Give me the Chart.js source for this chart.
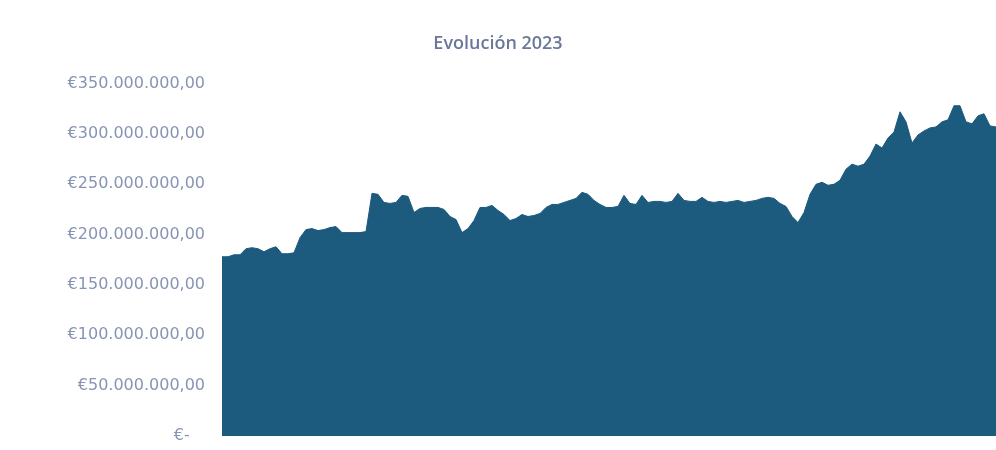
<!DOCTYPE html>
<html>
<head>
<meta charset="utf-8">
<script src="https://cdn.jsdelivr.net/npm/chart.js@4"></script>
<style>
  body { margin: 0; background: #ffffff; }
  #wrap { width: 996px; height: 450px; }
</style>
</head>
<body>
<div id="wrap"><canvas id="chart1"></canvas></div>
<script>
// valores, en millones de euros
var values = [178, 178, 180, 180, 186, 187, 186, 183, 186, 188,
              181, 181, 182, 197, 205, 206, 204, 205, 207, 208,
              202, 202, 202, 202, 203, 241, 240, 232, 231, 232,
              239, 238, 222, 226, 227, 227, 227, 225, 218, 215,
              202, 206, 214, 227, 227, 229, 224, 220, 214, 216,
              220, 218, 219, 221, 227, 230, 230, 232, 234, 236,
              242, 240, 234, 230, 227, 227, 228, 239, 231, 230,
              239, 232, 233, 233, 232, 233, 241, 234, 233, 233,
              237, 233, 232, 233, 232, 233, 234, 232, 233, 234,
              236, 237, 236, 231, 228, 218, 212, 222, 240, 250,
              252, 249, 250, 254, 265, 270, 268, 270, 278, 290,
              286, 296, 302, 322, 312, 291, 299, 303, 306, 307,
              312, 314, 328, 328, 312, 310, 318, 320, 308, 307];
var days = values.map(function(v, i) { return 'D' + (i + 1); });
var yTicks = [0, 50, 100, 150, 200, 250, 300, 350];

function euro(m) {
    if (m === 0) return '€-   ';
    return '€' + m + '.000.000,00';
}

document.addEventListener("DOMContentLoaded", function() {
    var ctx1 = document.getElementById('chart1').getContext('2d');
    var chart1 = new Chart(ctx1, {
        type: 'line',
        data: {
            labels: days,
            datasets: [{
                label: 'Evolución 2023',
                data: values,
                backgroundColor: '#1c5a7e',
                borderColor: '#1c5a7e',
                borderWidth: 1,
                fill: 'origin',
                pointRadius: 0,
                tension: 0
            }]
        },
        options: {
            responsive: true,
            maintainAspectRatio: false,
            animation: false,
            layout: { padding: { top: 0, right: 0, bottom: 14, left: 0 } },
            plugins: {
                legend: { display: false },
                tooltip: { enabled: false },
                title: {
                    display: true,
                    text: 'Evolución 2023',
                    color: '#6b7899',
                    font: { family: 'Open Sans', size: 18, weight: '600' },
                    padding: { top: 33, bottom: 29 }
                }
            },
            scales: {
                x: { display: false, offset: false },
                y: {
                    min: 0,
                    max: 350,
                    afterBuildTicks: function(axis) {
                        axis.ticks = yTicks.map(function(v) { return { value: v }; });
                    },
                    afterFit: function(axis) {
                        axis.width = 222;
                        axis.paddingTop = 0;
                        axis.paddingBottom = 0;
                    },
                    grid: { display: false },
                    border: { display: false },
                    ticks: {
                        padding: 9,
                        color: '#8794b3',
                        font: { family: 'DejaVu Sans', size: 16 },
                        callback: function(value) { return euro(value); }
                    }
                }
            }
        }
    });
});
</script>
</body>
</html>
